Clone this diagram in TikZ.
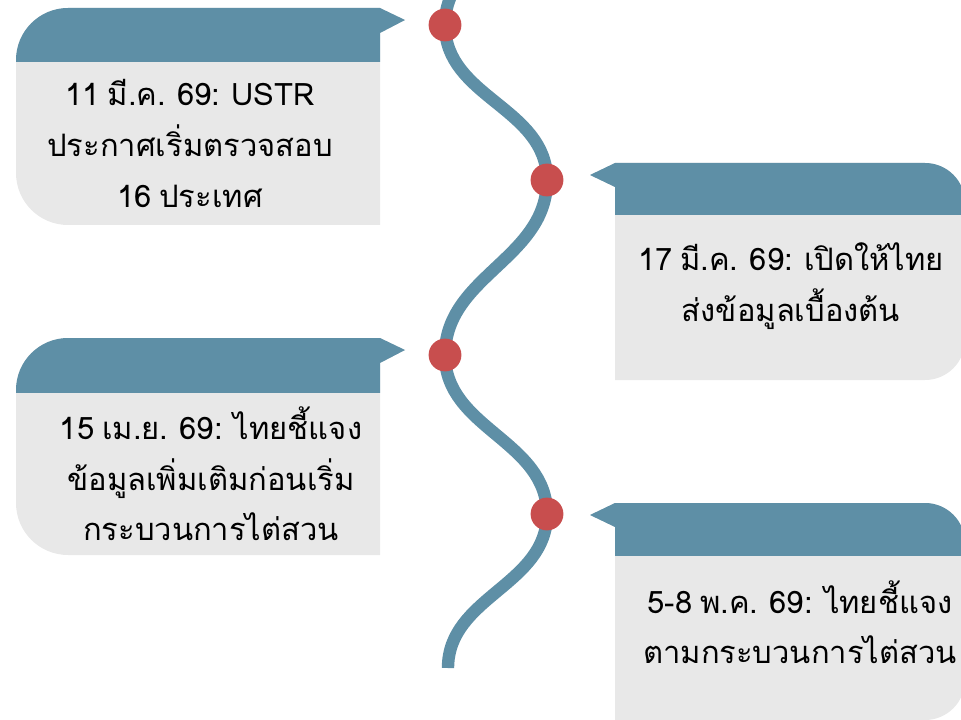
\documentclass[tikz,border=0pt]{standalone}
\usepackage{fontspec}
\newfontfamily\thaifont[Script=Thai,WordSpace=0.75]{Loma}
\definecolor{wavecol}{HTML}{5E8FA6}
\definecolor{dotcol}{HTML}{C84E4E}
\definecolor{boxgray}{HTML}{E8E8E8}

\begin{document}
\begin{tikzpicture}[
		wave/.style={line width=0.31cm, wavecol},
		redot/.style={circle, fill=dotcol, minimum size=0.82cm, inner sep=0pt},
		callbody/.style={fill=boxgray},
		callhead/.style={fill=wavecol},
		datetext/.style={font=\thaifont\fontsize{22}{36}\selectfont, align=center, text=black}
	]
	\useasboundingbox (0,0) rectangle (24.025,17.975);
	
	% points of the wave
	\coordinate (t0) at (13.675,21.35);
	\coordinate (t1) at (11.125,17.35);
	\coordinate (t2) at (13.675,13.475);
	\coordinate (t3) at (11.125,9.1);
	\coordinate (t4) at (13.675,5.125);
	\coordinate (t5) at (11.2,1.275);
	
	% left callouts
	\foreach \y in {0,-8.25}{
		\begin{scope}[yshift=\y cm]
			\fill[callbody] (9.5,12.35) -- (9.5,17.15) -- (10.125,17.475) -- (9.5,17.775) -- (5,17.775)
				{[rounded corners=1.3cm] -- (0.4,17.775) -- (0.4,12.35) -- (5,12.35)} -- cycle;
			\clip (0,16.425) rectangle (11,18.5);
			\fill[callhead] (9.5,12.35) -- (9.5,17.15) -- (10.125,17.475) -- (9.5,17.775) -- (5,17.775)
				{[rounded corners=1.3cm] -- (0.4,17.775) -- (0.4,12.35) -- (5,12.35)} -- cycle;
		\end{scope}
	}
	
	% right callouts
	\foreach \y in {0,-8.5}{
		\begin{scope}[yshift=\y cm]
			\fill[callbody] (15.375,8.475) -- (15.375,13.3) -- (14.75,13.6) -- (15.375,13.9) -- (20,13.9)
				{[rounded corners=1cm] -- (24.125,13.9) -- (24.125,8.475) -- (20,8.475)} -- cycle;
			\clip (14,12.6) rectangle (25,14.5);
			\fill[callhead] (15.375,8.475) -- (15.375,13.3) -- (14.75,13.6) -- (15.375,13.9) -- (20,13.9)
				{[rounded corners=1cm] -- (24.125,13.9) -- (24.125,8.475) -- (20,8.475)} -- cycle;
		\end{scope}
	}
	
	% the wave
	\draw[wave] (t0) to[out=-90,in=90] (t1) to[out=-90,in=90] (t2) to[out=-90,in=90] (t3)
		to[out=-90,in=90] (t4) to[out=-90,in=90] (t5);
	
	% dots on the wave
	\foreach \i in {1,...,4}{
		\node[redot] (dot\i) at (t\i) {};
	}
	
	% texts
	\node[datetext] (ev1) at (4.75,14.39) {11 มี.ค. 69: USTR\\ประกาศเริ่มตรวจสอบ\\16 ประเทศ};
	\node[datetext] (ev2) at (19.775,10.825) {17 มี.ค. 69: เปิดให้ไทย\\ส่งข้อมูลเบื้องต้น};
	\node[datetext] (ev3) at (5.275,6.125) {15 เม.ย. 69: ไทยชี้แจง\\ข้อมูลเพิ่มเติมก่อนเริ่ม\\กระบวนการไต่สวน};
	\node[datetext] (ev4) at (20.0,2.425) {5-8 พ.ค. 69: ไทยชี้แจง\\ตามกระบวนการไต่สวน};
\end{tikzpicture}
\end{document}
